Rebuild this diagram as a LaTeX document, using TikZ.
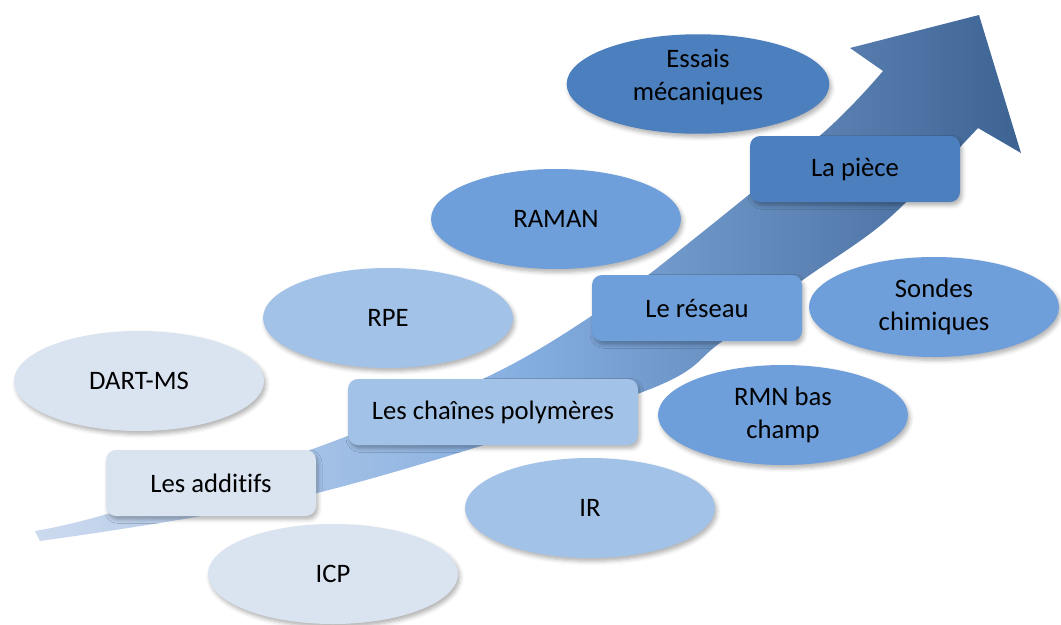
\documentclass[tikz,border=0pt]{standalone}
\usepackage{fontspec}
\setmainfont{Carlito}[Ligatures=NoCommon]
\usepackage{tikz}
\usetikzlibrary{positioning,shapes.geometric,shadows.blur}
\definecolor{paleblue}{HTML}{DAE3F0}
\definecolor{softblue}{HTML}{A3C2E8}
\definecolor{midblue}{HTML}{6F9FDA}
\definecolor{deepblue}{HTML}{4C7FBE}
\definecolor{tailblue}{HTML}{CCDAEE}
\definecolor{headblue}{HTML}{3D6393}
\newcommand{\labelsize}{\fontsize{20pt}{25pt}\selectfont}
\tikzset{
soft/.style={
blur shadow={shadow xshift=1.5pt,shadow yshift=-2.5pt,shadow blur radius=3pt,shadow opacity=30}
},
stage/.style={
soft,
rounded corners=7.5pt,
minimum width=157.5pt,
minimum height=49.5pt,
align=center,
font=\labelsize
},
method/.style={
soft,
ellipse,
inner sep=0pt,
minimum width=187.5pt,
minimum height=75pt,
align=center,
font=\labelsize
}
}

\begin{document}
\begin{tikzpicture}[x=0.75pt,y=-0.75pt]
\useasboundingbox (0,0) rectangle (1061,625);

% rising arrow
\shade[left color=tailblue,right color=headblue,middle color=midblue!85]
plot[smooth,tension=0.55] coordinates {(35,531) (107,514) (310,450) (487,377) (593,315) (680,250) (823,133) (883,71)}
-- (850,48) -- (979,15) -- (1021,153) -- (978,128)
-- plot[smooth,tension=0.55] coordinates {(978,128) (887,220) (800,282) (720,343) (640,393) (317,493) (40,541)}
-- cycle;

% methods
\node[method,fill=paleblue](dartms) at (139,381){DART-MS};
\node[method,fill=paleblue](icp) at (333,574){ICP};
\node[method,fill=softblue](rpe) at (388,318){RPE};
\node[method,fill=softblue](ir) at (590,508){IR};
\node[method,fill=midblue](raman) at (556,219){RAMAN};
\node[method,fill=midblue](rmn) at (783,415){RMN bas\\champ};
\node[method,fill=midblue](sondes) at (934,307){Sondes\\chimiques};
\node[method,fill=deepblue,minimum width=197pt,minimum height=73.5pt,text depth=14pt](essais) at (698,84){Essais\\mécaniques};

% stages
\node[stage,fill=paleblue](additifs) at (211,483){Les additifs};
\node[stage,fill=softblue,minimum width=217.5pt](chaines) at (493,412){Les chaînes polymères};
\node[stage,fill=midblue](reseau) at (697,308){Le réseau};
\node[stage,fill=deepblue](piece) at (855,169){La pièce};
\end{tikzpicture}
\end{document}
